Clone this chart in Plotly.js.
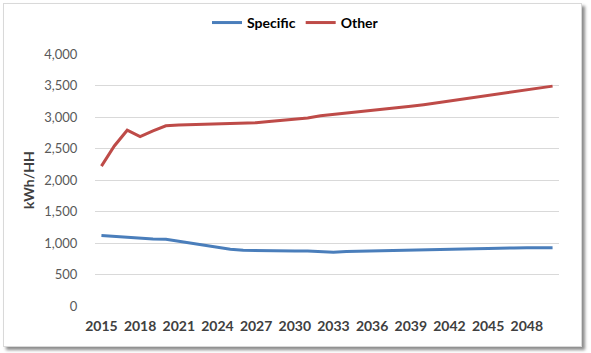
<!DOCTYPE html>
<html>
<head>
<meta charset="utf-8">
<script src="https://cdn.plot.ly/plotly-3.0.1.min.js"></script>
<style>
html,body{margin:0;padding:0;background:#fff;}
#wrap{position:relative;width:591px;height:353px;overflow:hidden;}
#frame{position:absolute;left:3px;top:3px;width:577px;height:342px;border:1px solid #d9d9d9;background:#fff;box-shadow:3px 3px 3px #8c8c8c;}
#chart{position:absolute;left:0;top:0;width:591px;height:353px;}
</style>
</head>
<body>
<div id="wrap"><div id="frame"></div><div id="chart"></div></div>
<script>
const years = ["2015","2016","2017","2018","2019","2020","2021","2022","2023","2024","2025","2026","2027","2028","2029","2030","2031","2032","2033","2034","2035","2036","2037","2038","2039","2040","2041","2042","2043","2044","2045","2046","2047","2048","2049","2050"];
const specific = [1120,1105,1090,1075,1062,1060,1030,995,960,930,900,885,880,870,870,872,872,868,852,865,870,875,878,890,892,894,896,905,908,910,912,920,922,923,924,925];
const other = [2220,2540,2790,2690,2780,2860,2875,2880,2885,2890,2895,2905,2910,2930,2950,2965,2985,3020,3040,3060,3080,3110,3130,3145,3170,3195,3225,3250,3280,3310,3345,3375,3410,3440,3465,3490];
const tickYears = ["2015","2018","2021","2024","2027","2030","2033","2036","2039","2042","2045","2048"];

const traces = [
  {x: years, y: specific, name: "Specific", type: "scatter", mode: "lines",
   line: {color: "#4a7ebb", width: 3}},
  {x: years, y: other, name: "Other", type: "scatter", mode: "lines",
   line: {color: "#be4b48", width: 3}}
];

const layout = {
  width: 591, height: 353,
  paper_bgcolor: "rgba(0,0,0,0)",
  plot_bgcolor: "rgba(0,0,0,0)",
  margin: {l: 95, r: 32, t: 54, b: 47},
  font: {family: "Lato, 'Open Sans', sans-serif", color: "#595959"},
  showlegend: true,
  legend: {orientation: "h", x: 0.5, xanchor: "center", xref: "container",
           y: 0.935, yanchor: "middle", yref: "container",
           font: {family: "Lato, sans-serif", size: 14, color: "#000", weight: "bold"},
           itemwidth: 30, tracegroupgap: 0},
  xaxis: {type: "category", range: [-0.5, 35.5], tickmode: "array", tickvals: tickYears,
          ticktext: tickYears, showgrid: false, zeroline: false, showline: false,
          ticks: "", ticklen: 0, ticklabelstandoff: 10,
          tickfont: {family: "Lato, sans-serif", size: 14, color: "#404040", weight: "bold"}},
  yaxis: {range: [0, 4000], dtick: 500, tickformat: ",d", showgrid: true,
          gridcolor: "#d9d9d9", gridwidth: 1, zeroline: false, showline: false,
          ticks: "outside", ticklen: 14, tickcolor: "rgba(0,0,0,0)",
          tickfont: {family: "Lato, sans-serif", size: 13, color: "#595959"},
          title: {text: "kWh/HH", standoff: 6,
                  font: {family: "Lato, sans-serif", size: 14, color: "#404040", weight: "bold"}}}
};
Plotly.newPlot("chart", traces, layout, {displayModeBar: false, staticPlot: true});
</script>
</body>
</html>
